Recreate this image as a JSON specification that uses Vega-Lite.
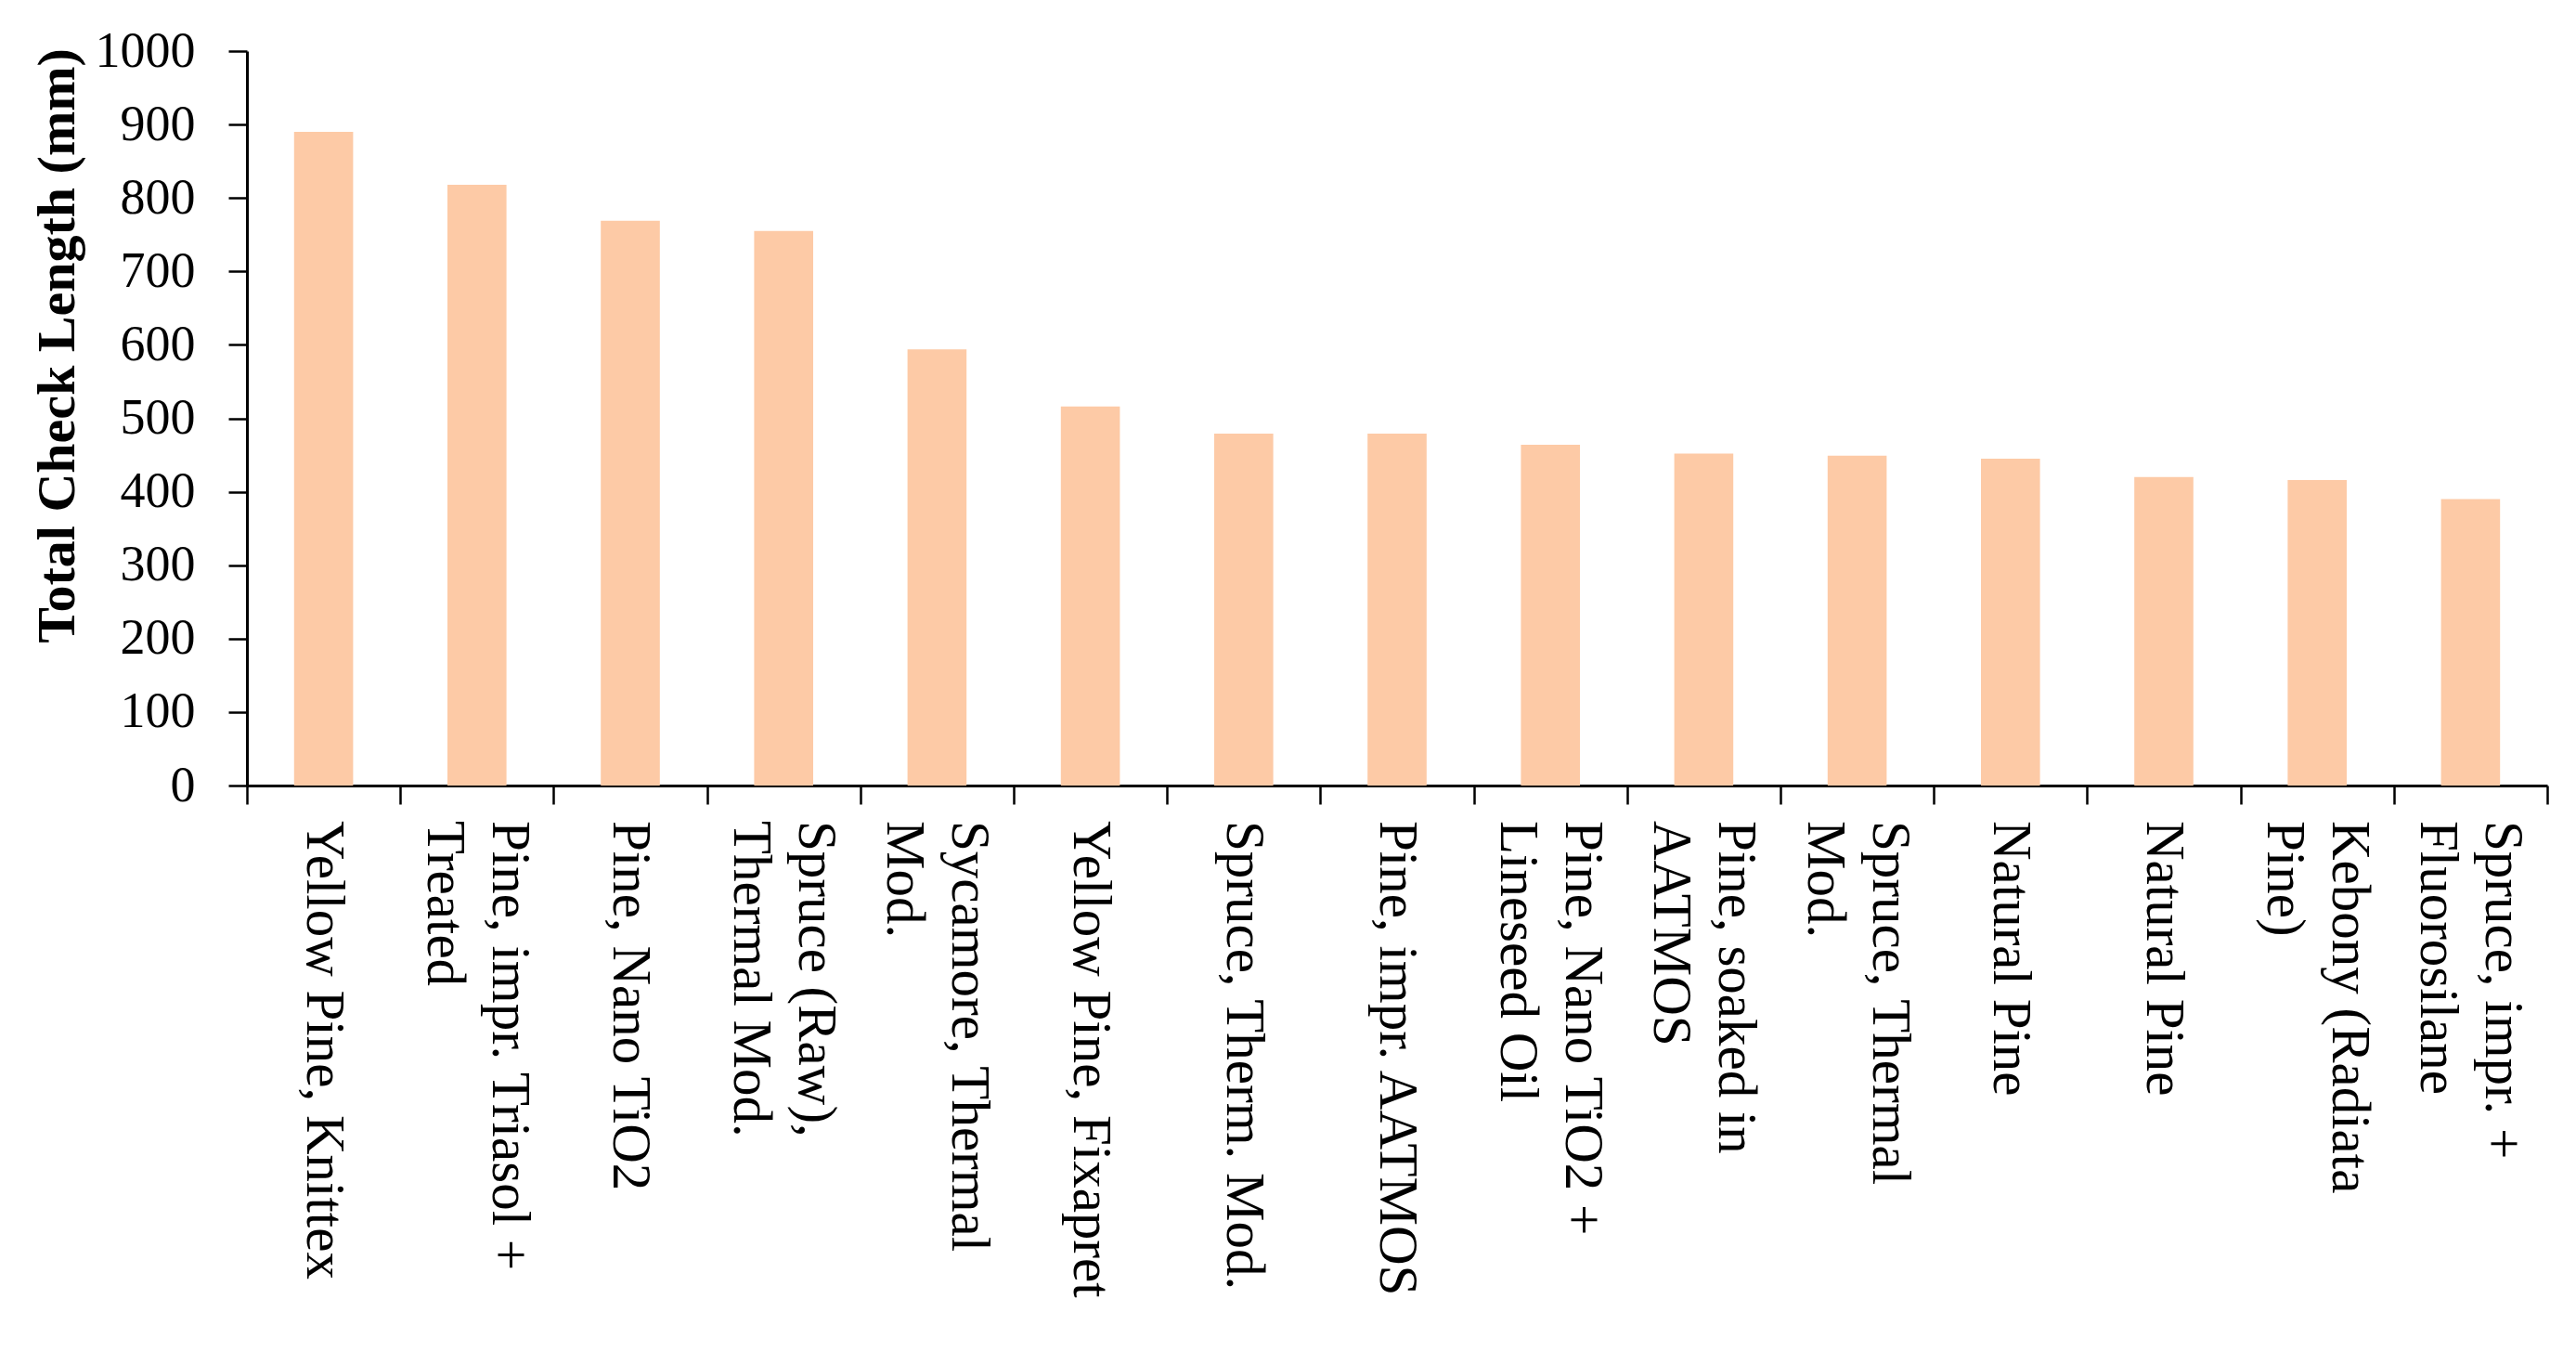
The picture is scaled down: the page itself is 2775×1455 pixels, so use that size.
{
  "$schema": "https://vega.github.io/schema/vega-lite/v6.json",
  "autosize": "none",
  "width": 2478,
  "height": 791,
  "padding": {"left": 266, "top": 55, "right": 31, "bottom": 609},
  "background": "white",
  "config": {
    "view": {"stroke": null},
    "font": "Liberation Serif",
    "axis": {
      "labelFont": "Liberation Serif",
      "titleFont": "Liberation Serif",
      "labelColor": "black",
      "titleColor": "black",
      "domainColor": "black",
      "tickColor": "black",
      "grid": false
    }
  },
  "datasets": {
    "checks": [
      {"treatment": "Yellow Pine, Knittex", "length": 890},
      {"treatment": "Pine, impr. Triasol +\nTreated", "length": 818},
      {"treatment": "Pine, Nano TiO2", "length": 769},
      {"treatment": "Spruce (Raw),\nThermal Mod.", "length": 755},
      {"treatment": "Sycamore, Thermal\nMod.", "length": 594},
      {"treatment": "Yellow Pine, Fixapret", "length": 516},
      {"treatment": "Spruce, Therm. Mod.", "length": 479},
      {"treatment": "Pine, impr. AATMOS", "length": 479},
      {"treatment": "Pine, Nano TiO2 +\nLineseed Oil", "length": 464},
      {"treatment": "Pine, soaked in\nAATMOS", "length": 452},
      {"treatment": "Spruce, Thermal\nMod.", "length": 449},
      {"treatment": "Natural Pine", "length": 445},
      {"treatment": "Natural Pine ", "length": 420},
      {"treatment": "Kebony (Radiata\nPine)", "length": 416},
      {"treatment": "Spruce, impr. +\nFluorosilane", "length": 390}
    ]
  },
  "data": {"name": "checks"},
  "resolve": {"scale": {"x": "shared", "y": "shared"}},
  "layer": [
    {
      "mark": {"type": "bar", "color": "#FDCAA6", "width": {"band": 0.385}},
      "encoding": {
        "x": {
          "field": "treatment",
          "type": "nominal",
          "sort": null,
          "scale": {"paddingInner": 0, "paddingOuter": 0},
          "axis": {
            "title": null,
            "labels": false,
            "tickBand": "extent",
            "tickSize": 20,
            "tickWidth": 2.5,
            "domainWidth": 3
          }
        },
        "y": {
          "field": "length",
          "type": "quantitative",
          "scale": {"domain": [0, 1000]},
          "axis": {
            "title": "Total Check Length (mm)",
            "titleFontSize": 58,
            "titleFontWeight": "bold",
            "titleAngle": -90,
            "titleBaseline": "middle",
            "titleAlign": "center",
            "titleX": -204,
            "titleY": 317,
            "values": [0, 100, 200, 300, 400, 500, 600, 700, 800, 900, 1000],
            "format": "d",
            "labelFontSize": 54,
            "labelPadding": 36,
            "tickSize": 20,
            "tickWidth": 2.5,
            "domainWidth": 3
          }
        }
      }
    },
    {
      "transform": [{"filter": "indexof(datum.treatment, '\\n') < 0"}],
      "mark": {"type": "text", "angle": 90, "align": "left", "baseline": "middle", "dx": 38, "fontSize": 59, "font": "Liberation Serif", "color": "black", "lineBreak": "\n", "lineHeight": 70},
      "encoding": {
        "x": {"field": "treatment", "type": "nominal", "sort": null},
        "y": {"datum": 0, "type": "quantitative"},
        "text": {"field": "treatment"}
      }
    },
    {
      "transform": [{"filter": "indexof(datum.treatment, '\\n') >= 0"}],
      "mark": {"type": "text", "angle": 90, "align": "left", "baseline": "middle", "dx": 38, "dy": -35, "fontSize": 59, "font": "Liberation Serif", "color": "black", "lineBreak": "\n", "lineHeight": 70},
      "encoding": {
        "x": {"field": "treatment", "type": "nominal", "sort": null},
        "y": {"datum": 0, "type": "quantitative"},
        "text": {"field": "treatment"}
      }
    }
  ]
}
